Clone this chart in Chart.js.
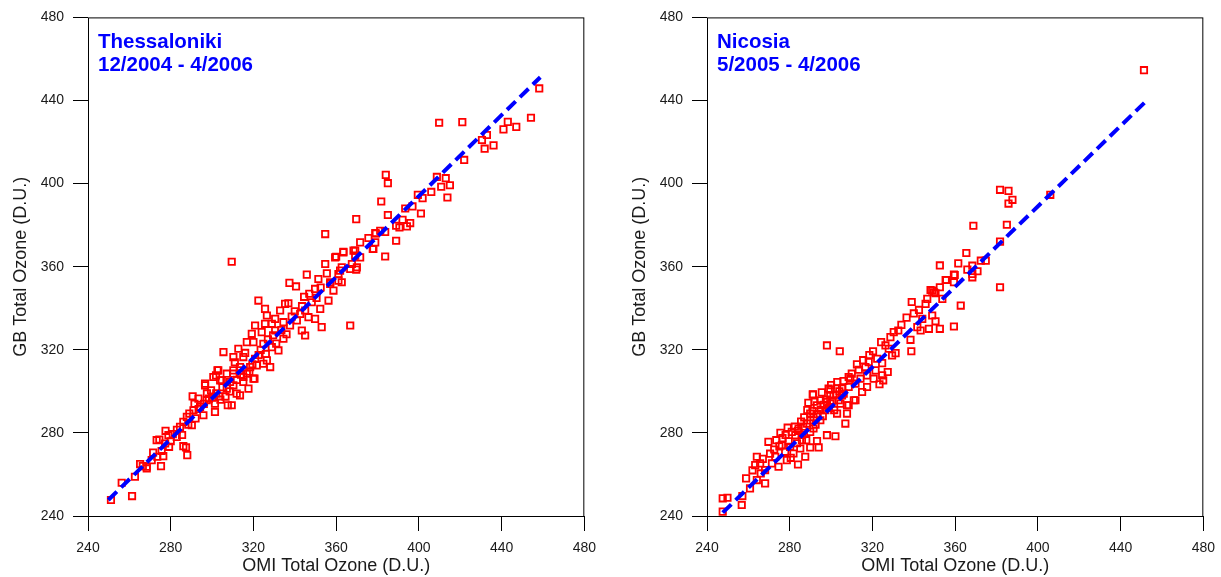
<!DOCTYPE html>
<html>
<head>
<meta charset="utf-8">
<title>OMI vs ground-based total ozone</title>
<script src="https://cdn.jsdelivr.net/npm/chart.js@4.4.1/dist/chart.umd.min.js"></script>
<style>
  html, body { margin: 0; padding: 0; background: #fff; }
  #wrap { position: relative; width: 1221px; height: 577px; overflow: hidden; }
  canvas { position: absolute; top: 0; }
  #thess { left: 0; }
  #nicosia { left: 619px; }
</style>
</head>
<body>
<div id="wrap">
  <canvas id="thess" width="605" height="577"></canvas>
  <canvas id="nicosia" width="605" height="577"></canvas>
</div>
<script>
// Station labels
const thessLabel = ['Thessaloniki', '12/2004 - 4/2006'];
const nicosiaLabel = ['Nicosia', '5/2005 - 4/2006'];

// Axis range and tick spacing (D.U.)
const axisMin = 240;
const axisMax = 480;
const minorStep = 20;
const majorStep = 40;

// Thessaloniki: OMI vs Brewer total ozone (D.U.)
const thessOmi = [
  251.1, 261.3, 256.3, 262.7, 265.2, 266.5, 268.4, 275.3, 270.8, 273.5,
  276.4, 273.2, 274.5, 278.9, 281.0, 279.2, 286.1, 288.0, 287.4, 275.6,
  286.1, 287.8, 290.2, 289.0, 291.0, 294.2, 295.8, 290.6, 293.4, 296.6,
  297.4, 301.4, 301.4, 303.5, 307.6, 309.5, 301.9, 302.6, 304.7, 307.1,
  310.3, 311.9, 313.5, 315.1, 317.6, 320.5, 316.8, 321.6, 324.8, 313.5,
  310.3, 307.1, 284.5, 282.9, 277.3, 268.4,
  354.7, 309.5, 366.8, 375.6, 378.0, 379.2, 371.6, 369.2, 363.5, 360.0,
  354.7, 370.0, 367.6, 362.7, 361.1, 355.5, 345.8, 337.4, 340.6, 351.4,
  357.1, 362.7, 358.7, 349.8, 356.3, 352.3, 348.2, 345.0, 346.6, 349.8,
  353.0, 342.6, 341.0, 337.7, 343.4, 345.0, 335.3, 332.9, 336.9, 325.6,
  322.4, 326.5, 330.5, 328.9, 334.5, 330.5, 334.5, 325.6, 320.8, 324.0,
  319.2, 320.0, 324.8, 328.9, 332.1, 316.8, 312.7, 305.5, 310.3, 315.1,
  320.8, 326.5, 328.1, 318.4, 313.5, 320.0, 315.1, 310.3, 303.0, 300.6,
  296.6, 303.9, 308.7,
  458.2, 454.2, 443.0, 447.1, 440.9, 432.9, 430.5, 436.1, 431.8, 409.8,
  421.0, 421.9, 408.7, 413.0, 410.8, 415.0, 413.8, 406.0, 401.8, 399.5,
  401.0, 396.9, 393.4, 384.0, 385.0, 381.8, 385.0, 369.7, 392.1, 389.0,
  394.2, 390.6, 395.8, 383.7, 381.3, 378.9, 378.9, 389.0, 377.7, 383.7,
  363.5, 359.5, 368.4, 369.2, 371.6, 361.9, 369.7, 366.8, 361.1, 357.1,
  283.0, 285.5, 288.5, 292.0, 293.5, 296.0, 298.5, 299.5, 302.0, 305.0,
  306.5, 308.5, 312.0, 314.0, 318.0, 319.5, 322.5, 323.5, 327.0, 329.5,
  331.0, 333.5, 336.0, 338.5, 340.0, 343.5, 344.5, 347.0, 350.5, 352.5,
  280.0, 271.5, 277.5, 291.5, 297.5, 300.0, 304.0, 311.0, 316.0, 326.0
];
const thessGb = [
  247.7, 249.6, 256.0, 258.9, 265.0, 264.0, 263.7, 264.0, 266.9, 268.5,
  268.8, 276.5, 276.8, 278.9, 279.4, 273.3, 273.6, 269.3, 273.0, 271.3,
  285.3, 287.7, 283.7, 289.3, 290.9, 292.5, 288.5, 297.6, 296.5, 302.9,
  295.7, 290.1, 294.1, 297.6, 293.3, 293.3, 307.7, 310.1, 305.3, 301.3,
  302.9, 298.9, 298.1, 304.5, 301.3, 306.1, 308.5, 312.5, 313.3, 311.7,
  310.1, 308.5, 282.9, 278.1, 274.9, 262.9,
  375.7, 362.4, 331.7, 373.8, 368.5, 376.0, 371.7, 367.7, 366.9, 364.8,
  361.3, 359.7, 361.3, 359.7, 356.5, 356.8, 356.2, 352.2, 350.5, 354.1,
  352.5, 352.5, 348.5, 349.3, 343.7, 339.7, 342.9, 338.9, 335.7, 334.9,
  330.9, 337.3, 334.1, 331.7, 329.3, 326.9, 342.1, 338.9, 342.4, 339.7,
  343.7, 336.5, 334.9, 332.5, 333.3, 329.3, 325.3, 332.5, 331.7, 328.5,
  327.7, 323.7, 322.9, 321.3, 319.7, 323.7, 320.5, 318.9, 316.5, 316.5,
  315.7, 314.9, 311.7, 311.7, 310.1, 306.1, 306.9, 308.5, 310.1, 306.9,
  303.7, 305.3, 304.5,
  445.8, 431.7, 429.7, 427.3, 426.1, 423.4, 421.0, 418.4, 416.8, 429.3,
  429.6, 411.4, 403.2, 402.6, 398.5, 399.2, 393.3, 396.0, 393.0, 394.6,
  385.6, 389.0, 388.0, 404.2, 400.2, 391.4, 384.9, 382.9, 382.6, 379.7,
  379.4, 378.9, 381.0, 376.7, 377.3, 376.2, 371.7, 372.5, 368.5, 364.9,
  367.2, 364.5, 367.7, 365.3, 364.5, 358.1, 358.6, 358.9, 353.3, 351.7,
  281.5, 279.0, 284.0, 287.0, 291.5, 294.0, 296.5, 300.5, 299.0, 302.0,
  297.5, 300.0, 305.5, 308.0, 309.5, 313.0, 317.5, 320.0, 325.0, 327.0,
  323.0, 329.5, 327.5, 336.0, 338.5, 341.0, 345.5, 347.0, 345.0, 350.0,
  276.0, 270.5, 281.0, 294.0, 299.0, 297.0, 296.0, 314.0, 318.5, 318.0
];
// Thessaloniki regression line end points
const thessFitX = [249.8, 458.7];
const thessFitY = [247.7, 451.2];

// Nicosia: OMI vs Brewer total ozone (D.U.)
const nicosiaOmi = [
  247.6, 247.6, 249.9, 256.8, 257.1, 258.9, 260.8, 264.1, 268.1, 263.3,
  264.1, 265.7, 268.1, 269.7, 274.6, 273.0, 271.4, 278.6, 284.0, 277.8,
  276.2, 280.2, 282.7, 285.9, 289.9, 294.0, 293.2, 298.0, 302.1, 284.3,
  288.3, 289.9, 291.5, 294.8, 297.2, 289.9, 293.2, 298.0, 299.6, 303.7,
  302.9, 307.7, 306.9, 291.2, 298.8, 302.9, 305.3, 308.5, 311.8, 308.5,
  285.1, 281.8, 287.5, 291.5,
  298.0, 304.2, 365.4, 352.6, 361.5, 359.8, 355.7, 362.7, 359.4, 352.6,
  349.8, 348.1, 346.5, 353.8, 342.5, 345.7, 348.9, 344.1, 350.5, 347.3,
  352.6, 343.3, 341.7, 338.4, 338.8, 332.5, 330.3, 328.7, 324.2, 326.3,
  327.9, 331.2, 329.5, 320.3, 322.3, 324.7, 318.2, 316.6, 313.4, 321.5,
  327.4, 324.7, 320.6, 325.2, 323.4, 317.4, 314.2, 317.4, 315.0, 309.3,
  311.8, 308.5, 305.3, 306.1, 311.0, 299.6, 301.2, 291.2, 294.8, 299.6,
  304.5, 307.7,
  451.3, 406.0, 381.7, 385.8, 387.7, 385.8, 368.8, 385.0, 381.7, 381.7,
  372.4, 374.8, 368.3, 370.8, 365.9, 368.3, 368.3, 359.4, 355.4, 359.4,
  350.5, 348.9,
  270.5, 272.5, 275.0, 276.5, 278.0, 279.5, 281.0, 282.5, 284.0, 285.5,
  286.5, 287.0, 288.5, 290.0, 291.0, 292.5, 293.5, 295.0, 296.0, 296.5,
  297.5, 299.0, 300.5, 301.5, 302.5, 304.0, 280.5, 283.5, 286.0, 288.0,
  279.0, 275.5, 273.5, 267.0, 266.0, 262.0, 289.0, 292.0, 295.5, 300.0,
  303.0, 306.0, 310.0, 312.5, 315.5, 318.5, 334.0, 336.5, 340.0, 339.0
];
const nicosiaGb = [
  242.1, 248.5, 248.8, 245.3, 249.6, 258.1, 253.3, 257.3, 255.7, 264.5,
  268.5, 265.3, 262.1, 275.7, 263.7, 268.5, 265.3, 266.9, 264.8, 270.9,
  274.1, 273.3, 278.9, 276.5, 273.0, 273.0, 276.1, 278.9, 278.4, 282.1,
  284.5, 280.5, 287.7, 286.1, 290.9, 289.3, 293.3, 294.9, 298.1, 295.7,
  289.3, 289.3, 284.5, 298.4, 301.3, 301.3, 298.1, 306.9, 295.7, 293.3,
  272.5, 270.1, 268.5, 282.1,
  322.1, 319.3, 366.6, 360.6, 361.6, 356.0, 353.6, 341.3, 331.2, 350.1,
  347.7, 348.8, 344.5, 344.5, 339.2, 342.1, 336.5, 334.9, 333.7, 330.1,
  330.1, 329.3, 330.9, 324.8, 319.3, 329.3, 328.5, 326.1, 323.7, 322.1,
  320.5, 318.4, 317.3, 319.3, 315.7, 313.6, 314.1, 311.7, 310.4, 310.1,
  309.3, 307.7, 306.1, 305.3, 303.4, 307.7, 306.1, 302.1, 299.7, 306.1,
  303.7, 302.1, 301.3, 298.9, 295.7, 300.8, 298.1, 298.6, 295.7, 294.1,
  294.1, 293.3,
  454.6, 394.6, 397.0, 396.5, 392.2, 390.4, 379.7, 380.2, 372.1, 350.1,
  362.9, 362.9, 360.5, 357.8, 358.6, 356.5, 354.9, 356.2, 353.6, 352.5,
  347.2, 348.5,
  270.0, 272.0, 273.5, 277.5, 279.0, 276.0, 280.5, 283.0, 281.0, 285.5,
  283.0, 287.5, 291.0, 286.0, 290.5, 284.0, 289.0, 291.0, 288.0, 293.5,
  296.0, 292.0, 295.5, 291.0, 298.5, 300.0, 268.0, 275.0, 279.0, 276.5,
  282.5, 280.0, 276.5, 267.5, 260.5, 262.0, 294.5, 295.0, 299.5, 303.0,
  304.5, 305.0, 308.5, 313.0, 315.0, 317.5, 332.0, 335.5, 337.5, 343.0
];
// Nicosia regression line end points
const nicosiaFitX = [247.6, 451.5];
const nicosiaFitY = [241.6, 438.9];

const FONT = '"Liberation Sans", Arial, Helvetica, sans-serif';
const TEXT = '#1a1a1a';

function toPoints(xs, ys) {
    return xs.map((x, i) => ({ x: x, y: ys[i] }));
}

// Frame, minor ticks and the station label
const framePlugin = {
    id: 'frame',
    afterDraw(chart, args, opts) {
        const { ctx, chartArea: a, scales } = chart;
        ctx.save();
        ctx.strokeStyle = '#000';
        ctx.lineWidth = 1;
        ctx.strokeRect(a.left + 0.5, a.top + 0.5, a.right - a.left - 1, a.bottom - a.top);

        ctx.beginPath();
        scales.x.ticks.forEach(t => {
            if (t.value % majorStep === 0) return;
            const px = Math.round(scales.x.getPixelForValue(t.value)) + 0.5;
            ctx.moveTo(px, a.bottom);
            ctx.lineTo(px, a.bottom + 8);
        });
        scales.y.ticks.forEach(t => {
            if (t.value % majorStep === 0) return;
            const py = Math.round(scales.y.getPixelForValue(t.value)) + 0.5;
            ctx.moveTo(a.left, py);
            ctx.lineTo(a.left - 8, py);
        });
        ctx.stroke();

        ctx.fillStyle = '#0000ff';
        ctx.font = 'bold 20.5px ' + FONT;
        ctx.textAlign = 'left';
        ctx.textBaseline = 'alphabetic';
        opts.lines.forEach((s, i) => ctx.fillText(s, a.left + 10, a.top + 31 + i * 23));
        ctx.restore();
    }
};

function axis(title, isX) {
    return {
        type: 'linear',
        position: isX ? 'bottom' : 'left',
        min: axisMin,
        max: axisMax,
        afterFit: s => {
            if (isX) s.height = 61; else s.width = 88;
        },
        border: { display: false },
        grid: {
            drawOnChartArea: false,
            drawTicks: true,
            tickLength: 15,
            tickWidth: 1,
            tickColor: c => (c.tick && c.tick.value % majorStep !== 0) ? 'rgba(0,0,0,0)' : '#000'
        },
        ticks: {
            stepSize: minorStep,
            autoSkip: false,
            maxRotation: 0,
            padding: 9,
            color: TEXT,
            font: { family: FONT, size: 14 },
            callback: v => (v % majorStep === 0 ? v : null)
        },
        title: {
            display: true,
            text: title,
            color: TEXT,
            font: { family: FONT, size: 18 },
            padding: isX ? { top: 0, bottom: 0 } : { top: 10, bottom: 0 }
        }
    };
}

function createScatter(id, omi, gb, fitX, fitY, label) {
    const ctx = document.getElementById(id).getContext('2d');
    return new Chart(ctx, {
        type: 'scatter',
        data: {
            datasets: [
                {
                    // regression line, listed first so it is painted over the squares
                    type: 'line',
                    data: toPoints(fitX, fitY),
                    borderColor: '#0000ff',
                    borderWidth: 4,
                    borderDash: [12, 6],
                    borderCapStyle: 'butt',
                    pointRadius: 0,
                    fill: false
                },
                {
                    data: toPoints(omi, gb),
                    pointStyle: 'rect',
                    pointRadius: 4.5,
                    pointBorderWidth: 1.8,
                    pointBorderColor: '#ff0000',
                    pointBackgroundColor: 'rgba(0,0,0,0)'
                }
            ]
        },
        options: {
            responsive: false,
            animation: false,
            devicePixelRatio: 1,
            layout: { padding: { left: 0, top: 16, right: 15, bottom: 0 } },
            plugins: {
                legend: { display: false },
                tooltip: { enabled: false },
                frame: { lines: label }
            },
            scales: {
                x: axis('OMI Total Ozone (D.U.)', true),
                y: axis('GB Total Ozone (D.U.)', false)
            }
        },
        plugins: [framePlugin]
    });
}

createScatter('thess', thessOmi, thessGb, thessFitX, thessFitY, thessLabel);
createScatter('nicosia', nicosiaOmi, nicosiaGb, nicosiaFitX, nicosiaFitY, nicosiaLabel);
</script>
</body>
</html>
